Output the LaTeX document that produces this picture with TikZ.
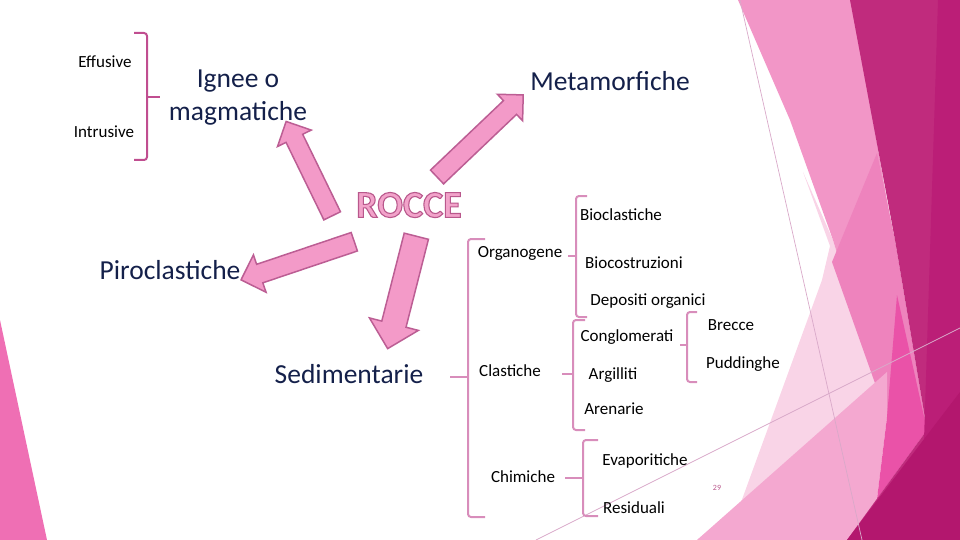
\documentclass[tikz,border=0pt]{standalone}
\usepackage{fontspec}
\setmainfont{Carlito}
\usetikzlibrary{shapes.arrows}
\definecolor{navy}{HTML}{14204A}
\definecolor{arrfill}{HTML}{F39AC8}
\definecolor{arrline}{HTML}{BC5E94}
\definecolor{brkpink}{HTML}{D88DBB}
\definecolor{brkdark}{HTML}{C04E90}
\definecolor{roccefill}{HTML}{F2A3CA}
\definecolor{roccedark}{HTML}{B9588C}
\definecolor{pale}{HTML}{F9D4E7}
\definecolor{band}{HTML}{F296C7}
\definecolor{bandlow}{HTML}{EE83BD}
\definecolor{lowpink}{HTML}{F4A8D0}
\definecolor{hotpink}{HTML}{EA52A8}
\definecolor{magenta1}{HTML}{C02B7D}
\definecolor{magenta2}{HTML}{BB1E77}
\definecolor{magenta3}{HTML}{B3176E}
\definecolor{leftpink}{HTML}{EF6FB4}
\definecolor{thinline}{HTML}{D9A9C9}
% outlined letters: stroke and fill
\newcommand{\outlined}[1]{\special{pdf:literal direct 2 Tr 1.1 w 0.725 0.345 0.549 RG}#1\special{pdf:literal direct 0 Tr}}
\begin{document}
\begin{tikzpicture}[x=1pt,y=-1pt,
  lbl/.style={font=\fontsize{17}{20}\selectfont,inner sep=0},
  big/.style={font=\fontsize{27.5}{33}\selectfont,text=navy,inner sep=0,align=center},
  rockword/.style={font=\fontsize{38}{40}\selectfont\bfseries,inner sep=0},
  brk/.style={draw=brkpink,line width=2,rounded corners=3},
  blockarrow/.style={single arrow,draw=arrline,fill=arrfill,line width=1.5,
    minimum width=0,inner xsep=0,anchor=tail}]
  \useasboundingbox (0,0) rectangle (960,540);
  % facets on the right and left
  \fill[pale] (740,505) -- (822,280) -- (830,246) -- (803,172) -- (833,240) -- (887,417) -- (697,540) -- cycle;
  \fill[band] (738,0) -- (852,0) -- (927,430) -- (887,417) -- (833,240) -- (790,120) -- cycle;
  \fill[bandlow] (877,153) -- (895,240) -- (927,430) -- (887,417) -- (832,262) -- cycle;
  \fill[lowpink] (697,540) -- (887,372) -- (887,417) -- (877,499) -- (863,540) -- cycle;
  \fill[hotpink] (897,295) -- (927,430) -- (877,499) -- (887,417) -- cycle;
  \fill[magenta1] (850,0) -- (960,0) -- (960,540) -- (847,540) -- (927,430) -- (895,240) -- cycle;
  \fill[magenta2] (938,0) -- (960,0) -- (960,400) -- (924,440) -- cycle;
  \fill[magenta3] (847,540) -- (960,392) -- (960,540) -- cycle;
  \fill[leftpink] (0,320) -- (47,540) -- (0,540) -- cycle;
  \draw[thinline,line width=0.7] (740,0) -- (862,540);
  \draw[thinline,line width=0.7] (536,540) -- (960,328);

  % main labels
  \node[lbl] (effusive) at (105,62) {Effusive};
  \node[lbl] (intrusive) at (104,132) {Intrusive};
  \node[big] (ignee) at (238,97.5) {Ignee o\\magmatiche};
  \node[big] (meta) at (610,81) {Metamorfiche};
  \node[big] (piro) at (170,270) {Piroclastiche};
  \node[big] (sedi) at (349,374) {Sedimentarie};
  \node[rockword,text=roccefill] (rocce) at (409,205) {\outlined{ROCCE}};

  % block arrows
  \node[blockarrow,rotate=116,minimum height=105,inner ysep=8.5,single arrow head extend=9.5] (toignee) at (332.5,216.5) {};
  \node[blockarrow,rotate=43.6,minimum height=119,inner ysep=8.75,single arrow head extend=8.75] (tometa) at (436.5,177.5) {};
  \node[blockarrow,rotate=198.6,minimum height=119.5,inner ysep=9,single arrow head extend=10] (topiro) at (355,241.5) {};
  \node[blockarrow,rotate=255.7,minimum height=116,inner ysep=11.75,single arrow head extend=12.75] (tosedi) at (416.5,235.5) {};

  % sedimentary tree
  \node[lbl] (organo) at (520,253) {Organogene};
  \node[lbl] (bioclast) at (621,215) {Bioclastiche};
  \node[lbl] (biocostr) at (634,263) {Biocostruzioni};
  \node[lbl] (depositi) at (648,301) {Depositi organici};
  \node[lbl] (conglo) at (627,337) {Conglomerati};
  \node[lbl] (brecce) at (731,325) {Brecce};
  \node[lbl] (puddinghe) at (743,364) {Puddinghe};
  \node[lbl] (clast) at (510,371) {Clastiche};
  \node[lbl] (argilliti) at (613,375) {Argilliti};
  \node[lbl] (arenarie) at (614,409) {Arenarie};
  \node[lbl] (chimiche) at (523,477) {Chimiche};
  \node[lbl] (evapor) at (645,461) {Evaporitiche};
  \node[lbl] (residuali) at (634,508) {Residuali};
  \node[font=\fontsize{8}{9}\selectfont,text=roccedark,inner sep=0] (pagenum) at (717,488) {29};

  % brackets: x / top / bottom / end / middle / tick
  \draw[brk,draw=brkdark] (134,33) -- (147,33) -- (147,160) -- (134,160);
  \draw[brk,draw=brkdark] (147,97) -- (160,97);
  \foreach \x/\t/\b/\e/\m/\k in {576/196/317/11/256/8, 573/320/430/12/374/11,
      687/312/382/10/345/7, 468/239/517/17/377/18, 583/440/516/15/478/18}{
    \draw[brk] (\x+\e,\t) -- (\x,\t) -- (\x,\b) -- (\x+\e,\b);
    \draw[brk] (\x,\m) -- (\x-\k,\m);}
\end{tikzpicture}
\end{document}
